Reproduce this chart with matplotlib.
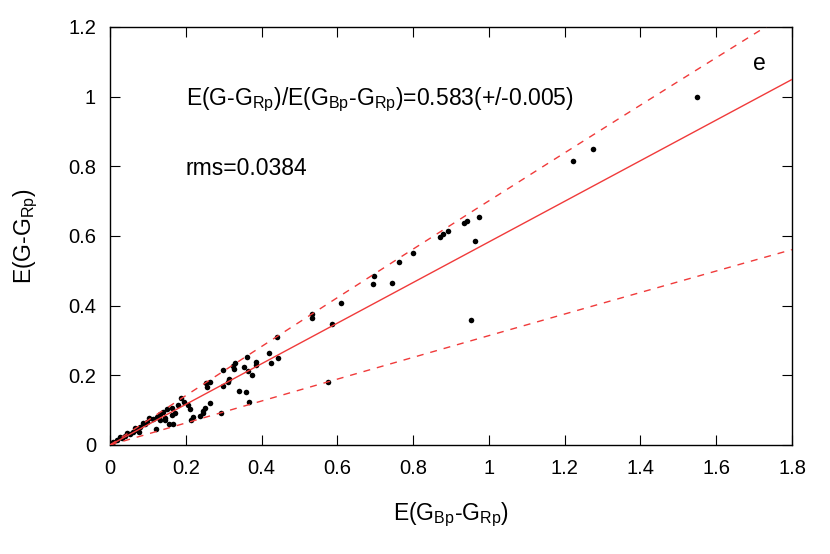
import matplotlib
matplotlib.use("Agg")
import matplotlib.pyplot as plt
import numpy as np

plt.rcParams['font.family'] = ['Liberation Sans', 'DejaVu Sans']
plt.rcParams['mathtext.fontset'] = 'custom'
plt.rcParams['mathtext.rm'] = 'Liberation Sans'
plt.rcParams['mathtext.it'] = 'Liberation Sans'

# E(GBp-GRp) values
ebr = [0.000, 1.549, 1.274, 1.222, 0.974, 0.942, 0.934, 0.963, 0.953, 0.892,
       0.879, 0.871, 0.799, 0.763, 0.744, 0.697, 0.694, 0.609, 0.533, 0.533,
       0.586, 0.575, 0.441, 0.420, 0.443, 0.425, 0.385, 0.385, 0.361, 0.354,
       0.364, 0.375, 0.330, 0.325, 0.327, 0.298, 0.314, 0.311, 0.298, 0.340,
       0.359, 0.367, 0.293, 0.264, 0.253, 0.256, 0.264, 0.251, 0.245, 0.237,
       0.214, 0.187, 0.195, 0.206, 0.211, 0.164, 0.150, 0.140, 0.132, 0.124,
       0.113, 0.103, 0.098, 0.087, 0.079, 0.071, 0.061, 0.053, 0.040, 0.032,
       0.018, 0.008, 0.156, 0.166, 0.121, 0.077, 0.164, 0.172, 0.145, 0.219,
       0.245, 0.145, 0.092, 0.066, 0.045, 0.026, 0.179, 0.132]
# E(G-GRp) values
egr = [0.000, 0.999, 0.850, 0.815, 0.655, 0.643, 0.637, 0.586, 0.359, 0.614,
       0.606, 0.597, 0.551, 0.525, 0.465, 0.485, 0.462, 0.408, 0.376, 0.365,
       0.347, 0.181, 0.310, 0.264, 0.250, 0.235, 0.238, 0.230, 0.253, 0.224,
       0.212, 0.201, 0.235, 0.227, 0.218, 0.215, 0.189, 0.181, 0.169, 0.155,
       0.152, 0.123, 0.092, 0.181, 0.178, 0.167, 0.121, 0.106, 0.092, 0.083,
       0.072, 0.135, 0.123, 0.115, 0.103, 0.106, 0.103, 0.095, 0.089, 0.080,
       0.075, 0.078, 0.066, 0.063, 0.052, 0.043, 0.037, 0.032, 0.026, 0.020,
       0.014, 0.009, 0.060, 0.060, 0.046, 0.037, 0.086, 0.092, 0.072, 0.080,
       0.098, 0.078, 0.060, 0.049, 0.034, 0.023, 0.115, 0.072]

# fit and envelope curves: y = a*x + b*x^2
fit_coef = (0.583, 0.0)
upper_coef = (0.711, -0.010)
lower_coef = (0.317, -0.003)

xticks = [0, 0.2, 0.4, 0.6, 0.8, 1.0, 1.2, 1.4, 1.6, 1.8]
xticklabels = ['0', '0.2', '0.4', '0.6', '0.8', '1', '1.2', '1.4', '1.6', '1.8']
yticks = [0, 0.2, 0.4, 0.6, 0.8, 1.0, 1.2]
yticklabels = ['0', '0.2', '0.4', '0.6', '0.8', '1', '1.2']

fig = plt.figure(figsize=(8.3, 5.54), dpi=100)
ax = fig.add_axes([110/830, 1-445/554, (792-110)/830, (445-27)/554])

red = '#f03a3a'
ax.scatter(ebr, egr, s=16, color='black', zorder=2, linewidths=0)

xx = np.linspace(0, 1.8, 400)
for coef, ls in [(fit_coef, '-'), (upper_coef, (0, (5, 5))), (lower_coef, (0, (5, 5)))]:
    ax.plot(xx, coef[0]*xx + coef[1]*xx**2, color=red, lw=1.0, ls=ls, zorder=3)

ax.set_xlim(0, 1.8)
ax.set_ylim(0, 1.2)
ax.set_xticks(xticks)
ax.set_xticklabels(xticklabels)
ax.set_yticks(yticks)
ax.set_yticklabels(yticklabels)
ax.tick_params(direction='in', length=7, width=0.8, top=True, right=True,
               labelsize=14.5, pad=10, colors='black')
for s in ax.spines.values():
    s.set_linewidth(1.0)

fs = 16.5
ax.set_xlabel(r'E(G$_{\rm Bp}$-G$_{\rm Rp}$)', fontsize=fs, labelpad=16)
ax.set_ylabel(r'E(G-G$_{\rm Rp}$)', fontsize=fs, labelpad=20)

ax.text(0.2, 0.99,
        r'E(G-G$_{\rm Rp}$)/E(G$_{\rm Bp}$-G$_{\rm Rp}$)=0.583(+/-0.005)',
        fontsize=fs, va='center', ha='left')
ax.text(0.2, 0.795, 'rms=0.0384', fontsize=fs, va='center', ha='left')
ax.text(1.715, 1.095, 'e', fontsize=fs, va='center', ha='center')

fig.savefig('out.png', dpi=100)
